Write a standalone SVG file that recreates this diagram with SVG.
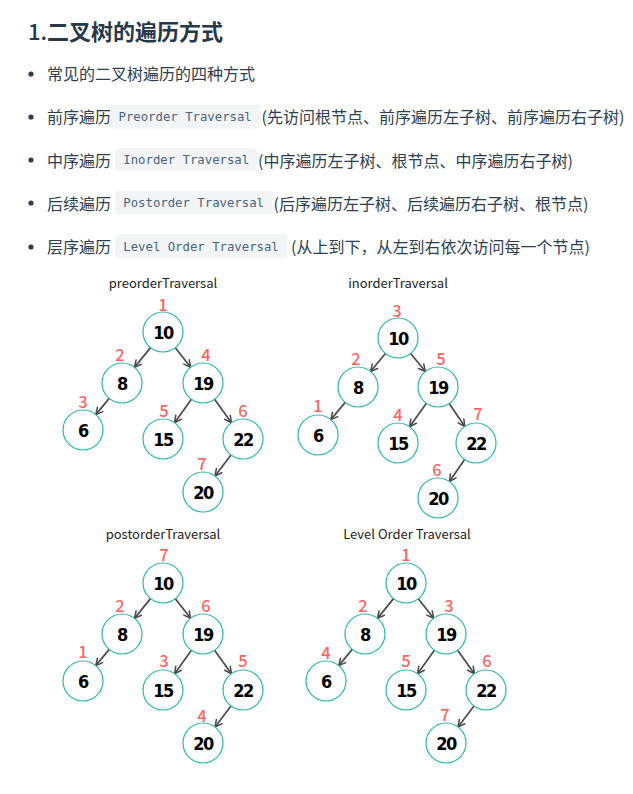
<svg xmlns="http://www.w3.org/2000/svg" width="633" height="794" viewBox="0 0 633 794">
<defs>
<marker id="arr" viewBox="0 0 10 10" refX="9" refY="5" markerWidth="9" markerHeight="9" markerUnits="userSpaceOnUse" orient="auto">
<path d="M1.5,1.2 L9,5 L1.5,8.8" fill="none" stroke="#4a4a4a" stroke-width="1.7" stroke-linecap="round" stroke-linejoin="round"/>
</marker>
<style>
.h{font-family:"Noto Sans CJK SC","Noto Sans",sans-serif;font-size:22px;font-weight:bold;fill:#273849}
.t{font-family:"Noto Sans CJK SC","Noto Sans",sans-serif;font-size:16px;fill:#2c3e50}
.dot{fill:#2c3e50}
.cb{fill:#f3f4f5}
.code{font-family:"DejaVu Sans Mono","Liberation Mono",monospace;font-size:12.3px;fill:#476582}
.tt{font-family:"Noto Sans CJK SC","Noto Sans",sans-serif;font-size:13px;fill:#222;text-anchor:middle}
.n circle{fill:#fff;stroke:#2ab5ae;stroke-width:1.2}
.num{font-family:"DejaVu Sans Condensed","DejaVu Sans",sans-serif;font-weight:900;font-size:18px;fill:#000;text-anchor:middle;letter-spacing:-1.5px}
.lb{font-family:"Noto Sans CJK SC","Noto Sans",sans-serif;font-size:16.5px;font-weight:500;fill:#ff6464;text-anchor:middle}
.e{stroke:#4a4a4a;stroke-width:1.7;fill:none;marker-end:url(#arr)}
</style>
</defs>
<rect width="633" height="794" fill="#fff"/>

<g id="header">
<text class="h" x="28" y="40"><tspan font-weight="500">1.</tspan>二叉树的遍历方式</text>
<circle class="dot" cx="31" cy="74" r="2.6"/>
<text class="t" x="47" y="80">常见的二叉树遍历的四种方式</text>
<circle class="dot" cx="31" cy="117" r="2.6"/>
<text class="t" x="47" y="123.3">前序遍历</text>
<rect class="cb" x="110" y="105" width="150.7" height="23.3" rx="3"/>
<text class="code" x="118.5" y="121.2">Preorder Traversal</text>
<text class="t" x="261.5" y="123.3">(先访问根节点、前序遍历左子树、前序遍历右子树)</text>
<circle class="dot" cx="31" cy="160" r="2.6"/>
<text class="t" x="47" y="166.5">中序遍历</text>
<rect class="cb" x="115" y="148.3" width="142.3" height="22.7" rx="3"/>
<text class="code" x="123.3" y="164.2">Inorder Traversal</text>
<text class="t" x="258" y="166.5">(中序遍历左子树、根节点、中序遍历右子树)</text>
<circle class="dot" cx="31" cy="203" r="2.6"/>
<text class="t" x="47" y="209.7">后续遍历</text>
<rect class="cb" x="115" y="191" width="157.7" height="23.3" rx="3"/>
<text class="code" x="123.3" y="207.2">Postorder Traversal</text>
<text class="t" x="273.5" y="209.7">(后序遍历左子树、后续遍历右子树、根节点)</text>
<circle class="dot" cx="31" cy="247" r="2.6"/>
<text class="t" x="47" y="253">层序遍历</text>
<rect class="cb" x="115" y="234.3" width="172.3" height="23.4" rx="3"/>
<text class="code" x="123.3" y="250.5">Level Order Traversal</text>
<text class="t" x="291" y="253">(从上到下，从左到右依次访问每一个节点)</text>
</g>

<g id="titles">
<text class="tt" x="163" y="288">preorderTraversal</text>
<text class="tt" x="398" y="288">inorderTraversal</text>
<text class="tt" x="163" y="539">postorderTraversal</text>
<text class="tt" x="407" y="539">Level Order Traversal</text>
</g>

<g id="connectors">
<g transform="translate(163,332)">
<line class="e" x1="-12.5" y1="15.6" x2="-28.5" y2="35.4"/>
<line class="e" x1="12.3" y1="15.7" x2="27.7" y2="35.3"/>
<line class="e" x1="-53.8" y1="66.4" x2="-67.2" y2="82.6"/>
<line class="e" x1="28.4" y1="67.3" x2="11.6" y2="90.7"/>
<line class="e" x1="51.6" y1="67.3" x2="68.4" y2="90.7"/>
<line class="e" x1="68" y1="123" x2="52" y2="144"/>
</g>
<g transform="translate(398,338)">
<line class="e" x1="-12.6" y1="15.5" x2="-27.4" y2="33.5"/>
<line class="e" x1="12.6" y1="15.5" x2="27.4" y2="33.5"/>
<line class="e" x1="-52.8" y1="64.4" x2="-67.2" y2="81.6"/>
<line class="e" x1="28.4" y1="65.3" x2="11.6" y2="88.7"/>
<line class="e" x1="51.2" y1="65.5" x2="66.8" y2="88.5"/>
<line class="e" x1="66.6" y1="121.5" x2="51.4" y2="143.5"/>
</g>
<g transform="translate(163,583)">
<line class="e" x1="-12.5" y1="15.6" x2="-28.5" y2="35.4"/>
<line class="e" x1="12.3" y1="15.7" x2="27.7" y2="35.3"/>
<line class="e" x1="-53.8" y1="66.4" x2="-67.2" y2="82.6"/>
<line class="e" x1="28.4" y1="67.3" x2="11.6" y2="90.7"/>
<line class="e" x1="51.6" y1="67.3" x2="68.4" y2="90.7"/>
<line class="e" x1="68" y1="123" x2="52" y2="144"/>
</g>
<g transform="translate(406,583)">
<line class="e" x1="-12.5" y1="15.6" x2="-28.5" y2="35.4"/>
<line class="e" x1="12.3" y1="15.7" x2="27.7" y2="35.3"/>
<line class="e" x1="-53.8" y1="66.4" x2="-67.2" y2="82.6"/>
<line class="e" x1="28.4" y1="67.3" x2="11.6" y2="90.7"/>
<line class="e" x1="51.6" y1="67.3" x2="68.4" y2="90.7"/>
<line class="e" x1="68" y1="123" x2="52" y2="144"/>
</g>
</g>

<g id="tree-preorder" transform="translate(163,332)">
<g id="pre-10" class="n"><circle cx="0" cy="0" r="20"/><text class="num" x="0" y="6.5">10</text><text class="lb" x="0" y="-21">1</text></g>
<g id="pre-8" class="n"><circle cx="-41" cy="51" r="20"/><text class="num" x="-41" y="57.5">8</text><text class="lb" x="-43" y="29">2</text></g>
<g id="pre-19" class="n"><circle cx="40" cy="51" r="20"/><text class="num" x="40" y="57.5">19</text><text class="lb" x="43" y="29">4</text></g>
<g id="pre-6" class="n"><circle cx="-80" cy="98" r="20"/><text class="num" x="-80" y="104.5">6</text><text class="lb" x="-80" y="76">3</text></g>
<g id="pre-15" class="n"><circle cx="0" cy="107" r="20"/><text class="num" x="0" y="113.5">15</text><text class="lb" x="1" y="85">5</text></g>
<g id="pre-22" class="n"><circle cx="80" cy="107" r="20"/><text class="num" x="80" y="113.5">22</text><text class="lb" x="80" y="85">6</text></g>
<g id="pre-20" class="n"><circle cx="40" cy="160" r="20"/><text class="num" x="40" y="166.5">20</text><text class="lb" x="39" y="138">7</text></g>
</g>

<g id="tree-inorder" transform="translate(398,338)">
<g id="in-10" class="n"><circle cx="0" cy="0" r="20"/><text class="num" x="0" y="6.5">10</text><text class="lb" x="-1" y="-21">3</text></g>
<g id="in-8" class="n"><circle cx="-40" cy="49" r="20"/><text class="num" x="-40" y="55.5">8</text><text class="lb" x="-42" y="27">2</text></g>
<g id="in-19" class="n"><circle cx="40" cy="49" r="20"/><text class="num" x="40" y="55.5">19</text><text class="lb" x="43" y="27">5</text></g>
<g id="in-6" class="n"><circle cx="-80" cy="97" r="20"/><text class="num" x="-80" y="103.5">6</text><text class="lb" x="-80" y="74">1</text></g>
<g id="in-15" class="n"><circle cx="0" cy="105" r="20"/><text class="num" x="0" y="111.5">15</text><text class="lb" x="0" y="83">4</text></g>
<g id="in-22" class="n"><circle cx="78" cy="105" r="20"/><text class="num" x="78" y="111.5">22</text><text class="lb" x="80" y="82">7</text></g>
<g id="in-20" class="n"><circle cx="40" cy="160" r="20"/><text class="num" x="40" y="166.5">20</text><text class="lb" x="39" y="138">6</text></g>
</g>

<g id="tree-postorder" transform="translate(163,583)">
<g id="post-10" class="n"><circle cx="0" cy="0" r="20"/><text class="num" x="0" y="6.5">10</text><text class="lb" x="1" y="-22">7</text></g>
<g id="post-8" class="n"><circle cx="-41" cy="51" r="20"/><text class="num" x="-41" y="57.5">8</text><text class="lb" x="-43" y="29">2</text></g>
<g id="post-19" class="n"><circle cx="40" cy="51" r="20"/><text class="num" x="40" y="57.5">19</text><text class="lb" x="43" y="29">6</text></g>
<g id="post-6" class="n"><circle cx="-80" cy="98" r="20"/><text class="num" x="-80" y="104.5">6</text><text class="lb" x="-80" y="75">1</text></g>
<g id="post-15" class="n"><circle cx="0" cy="107" r="20"/><text class="num" x="0" y="113.5">15</text><text class="lb" x="1" y="84">3</text></g>
<g id="post-22" class="n"><circle cx="80" cy="107" r="20"/><text class="num" x="80" y="113.5">22</text><text class="lb" x="80" y="84">5</text></g>
<g id="post-20" class="n"><circle cx="40" cy="160" r="20"/><text class="num" x="40" y="166.5">20</text><text class="lb" x="39" y="139">4</text></g>
</g>

<g id="tree-levelorder" transform="translate(406,583)">
<g id="lvl-10" class="n"><circle cx="0" cy="0" r="20"/><text class="num" x="0" y="6.5">10</text><text class="lb" x="0" y="-22">1</text></g>
<g id="lvl-8" class="n"><circle cx="-41" cy="51" r="20"/><text class="num" x="-41" y="57.5">8</text><text class="lb" x="-43" y="29">2</text></g>
<g id="lvl-19" class="n"><circle cx="40" cy="51" r="20"/><text class="num" x="40" y="57.5">19</text><text class="lb" x="43" y="29">3</text></g>
<g id="lvl-6" class="n"><circle cx="-80" cy="98" r="20"/><text class="num" x="-80" y="104.5">6</text><text class="lb" x="-80" y="76">4</text></g>
<g id="lvl-15" class="n"><circle cx="0" cy="107" r="20"/><text class="num" x="0" y="113.5">15</text><text class="lb" x="0" y="84">5</text></g>
<g id="lvl-22" class="n"><circle cx="80" cy="107" r="20"/><text class="num" x="80" y="113.5">22</text><text class="lb" x="81" y="84">6</text></g>
<g id="lvl-20" class="n"><circle cx="40" cy="160" r="20"/><text class="num" x="40" y="166.5">20</text><text class="lb" x="39" y="138">7</text></g>
</g>
</svg>
